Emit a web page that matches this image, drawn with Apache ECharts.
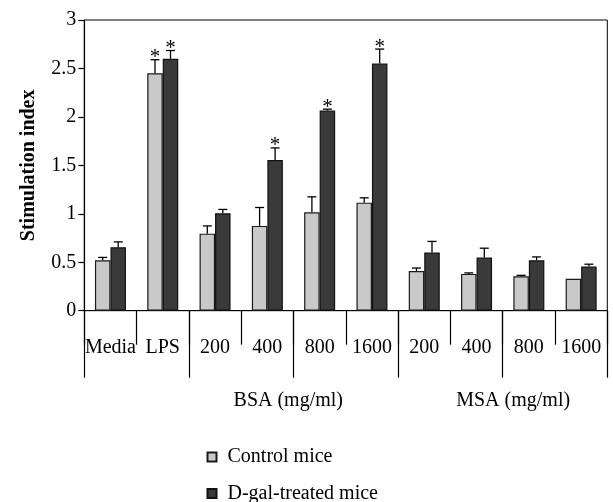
<!DOCTYPE html>
<html>
<head>
<meta charset="utf-8">
<script src="https://cdn.jsdelivr.net/npm/echarts@6/dist/echarts.min.js"></script>
<style>
html,body{margin:0;padding:0;background:#fff;}
#chart{width:613px;height:502px;}
</style>
</head>
<body>
<div id="chart"></div>
<script>
// ---- data ----
const categories = ['Media', 'LPS', '200', '400', '800', '1600', '200', '400', '800', '1600'];
const groupNames = ['BSA (mg/ml)', 'MSA (mg/ml)'];
const seriesNames = ['Control mice', 'D-gal-treated mice'];
const controlMean = [0.52, 2.45, 0.795, 0.875, 1.015, 1.115, 0.41, 0.38, 0.355, 0.33];
const controlErr  = [0.03, 0.14, 0.08, 0.19, 0.16, 0.05, 0.03, 0.01, 0.01, 0];
const controlSig  = [0, 1, 0, 0, 0, 0, 0, 0, 0, 0];
const dgalMean = [0.655, 2.60, 1.005, 1.555, 2.065, 2.55, 0.60, 0.55, 0.52, 0.455];
const dgalErr  = [0.055, 0.085, 0.04, 0.125, 0.015, 0.15, 0.115, 0.095, 0.035, 0.025];
const dgalSig  = [0, 1, 0, 1, 1, 1, 0, 0, 0, 0];
const yMin = 0, yMax = 3, yStep = 0.5;

// ---- styling ----
const FONT = '"Liberation Serif", "Times New Roman", serif';
const BAR_W = 15.5;
const CAP_HALF = 4.5;

function errRenderer(side) {
  return function (params, api) {
    const i = api.value(0), v = api.value(1), e = api.value(2), s = api.value(3);
    const base = api.coord([i, v]);
    const top = api.coord([i, v + e]);
    const x = base[0] + side * BAR_W / 2;
    const children = [];
    const ls = { stroke: '#000', lineWidth: 1.3 };
    if (e > 0) {
      children.push({ type: 'line', shape: { x1: x, y1: base[1], x2: x, y2: top[1] }, style: ls });
      children.push({ type: 'line', shape: { x1: x - CAP_HALF, y1: top[1], x2: x + CAP_HALF, y2: top[1] }, style: ls });
    }
    if (s) {
      children.push({ type: 'text', x: x, y: top[1] - 2,
        style: { text: '*', fontFamily: FONT, fontSize: 21, fill: '#000', align: 'center', verticalAlign: 'middle' } });
    }
    return { type: 'group', children: children };
  };
}

function legendAt(name, top) {
  return {
    left: 201.5, top: top, itemWidth: 9, itemHeight: 9, icon: 'rect',
    textStyle: { fontFamily: FONT, fontSize: 20, color: '#000', padding: [0, 0, 0, 6] },
    data: [name], selectedMode: false
  };
}

const chart = echarts.init(document.getElementById('chart'), null, { renderer: 'canvas' });
const option = {
  backgroundColor: '#fff',
  animation: false,
  textStyle: { fontFamily: FONT, color: '#000' },
  grid: { left: 84.3, right: 5.7, top: 20, bottom: 191.3, containLabel: false, outerBoundsMode: 'none',
          show: true, borderColor: '#000', borderWidth: 1, backgroundColor: 'transparent' },
  legend: [legendAt(seriesNames[0], 442), legendAt(seriesNames[1], 478.5)],
  xAxis: [
    {
      type: 'category', data: categories, gridIndex: 0, position: 'bottom',
      axisLine: { show: true, lineStyle: { color: '#000', width: 1 } },
      axisTick: { show: true, interval: 0, length: 34, lineStyle: { color: '#000', width: 1.2 } },
      axisLabel: { interval: 0, margin: 27, fontFamily: FONT, fontSize: 20, color: '#000' },
      splitLine: { show: false }
    },
    {
      type: 'category', data: ['', '', '', '', ''], gridIndex: 0, position: 'bottom',
      axisLine: { show: false },
      axisTick: { show: true, interval: 0, length: 67, lineStyle: { color: '#000', width: 1.2 } },
      axisLabel: { show: false },
      splitLine: { show: false }
    },
    {
      type: 'value', min: 0, max: categories.length, interval: 0.1, gridIndex: 0, position: 'bottom',
      axisLine: { show: false }, axisTick: { show: false }, splitLine: { show: false },
      axisLabel: {
        margin: 80, fontFamily: FONT, fontSize: 20, color: '#000', showMinLabel: true, showMaxLabel: true,
        formatter: function (v) {
          const k = Math.round(v * 10);
          if (k === 39) return groupNames[0];
          if (k === 82) return groupNames[1];
          return '';
        }
      }
    }
  ],
  yAxis: {
    type: 'value', min: yMin, max: yMax, interval: yStep,
    name: 'Stimulation index', nameLocation: 'middle', nameGap: 45,
    nameTextStyle: { fontFamily: FONT, fontSize: 20, fontWeight: 'bold', color: '#000' },
    axisLine: { show: true, lineStyle: { color: '#000', width: 1.2 } },
    axisTick: { show: true, length: 6, lineStyle: { color: '#000', width: 1.2 } },
    axisLabel: { margin: 8, fontFamily: FONT, fontSize: 20, color: '#000' },
    splitLine: { show: false }
  },
  series: [
    {
      name: seriesNames[0], type: 'bar', xAxisIndex: 0, data: controlMean,
      barWidth: BAR_W, barGap: '0%',
      itemStyle: { color: '#c9c9c9', borderColor: '#1a1a1a', borderWidth: 1.2 }
    },
    {
      name: seriesNames[1], type: 'bar', xAxisIndex: 0, data: dgalMean,
      barWidth: BAR_W, barGap: '0%',
      itemStyle: { color: '#3a3a3a', borderColor: '#111', borderWidth: 1.2 }
    },
    {
      type: 'custom', name: 'control-err', xAxisIndex: 0, z: 5, silent: true,
      renderItem: errRenderer(-1), encode: { x: 0, y: 1 },
      data: categories.map((c, i) => [i, controlMean[i], controlErr[i], controlSig[i]])
    },
    {
      type: 'custom', name: 'dgal-err', xAxisIndex: 0, z: 5, silent: true,
      renderItem: errRenderer(1), encode: { x: 0, y: 1 },
      data: categories.map((c, i) => [i, dgalMean[i], dgalErr[i], dgalSig[i]])
    }
  ]
};
chart.setOption(option);
</script>
</body>
</html>
